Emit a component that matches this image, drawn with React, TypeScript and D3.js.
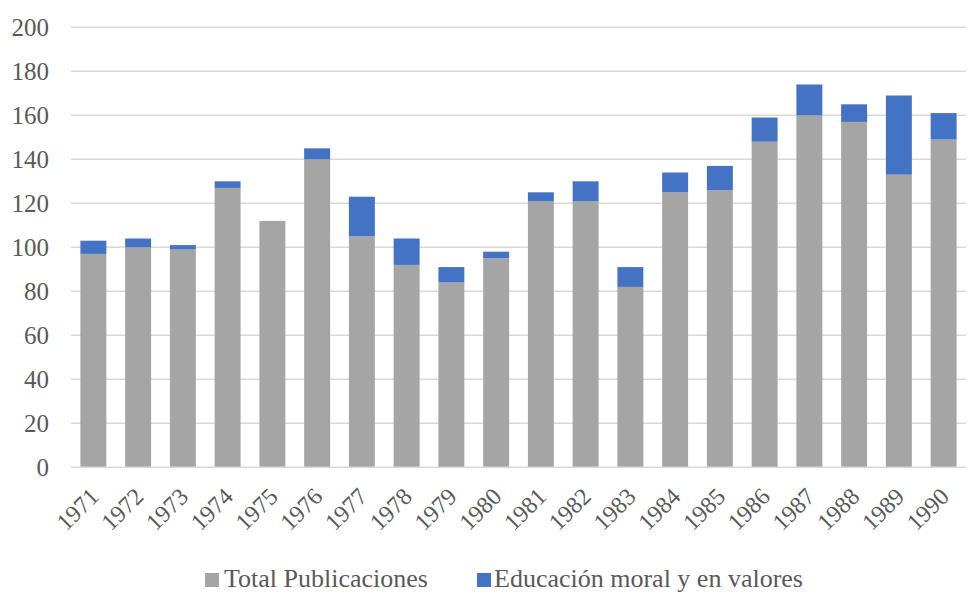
import React from "react";
import * as d3 from "d3";

const years = ["1971","1972","1973","1974","1975","1976","1977","1978","1979","1980","1981","1982","1983","1984","1985","1986","1987","1988","1989","1990"];
const totalPublicaciones = [97,100,99,127,112,140,105,92,84,95,121,121,82,125,126,148,160,157,133,149];
const educacionMoral = [6,4,2,3,0,5,18,12,7,3,4,9,9,9,11,11,14,8,36,12];
const yTicks = [0,20,40,60,80,100,120,140,160,180,200];
const seriesNames = ["Total Publicaciones", "Educación moral y en valores"];
const seriesColors = ["#a5a5a5", "#4472c4"];

export default function App() {
  const W = 971, H = 593;
  const left = 71, right = 966, top = 27.3, bottom = 467.3;
  const x = d3.scaleBand<string>().domain(years).range([left, right]).paddingInner(0.42).paddingOuter(0.21);
  const y = d3.scaleLinear().domain([0, 200]).range([bottom, top]);
  const fontStyle = { fontFamily: "'Liberation Serif', 'Times New Roman', serif" };
  const textColor = "#595959";
  const fs = 26;
  return (
    <svg width={W} height={H} style={{ position: "absolute", left: 0, top: 0, background: "#fff" }}>
      {yTicks.map((t) => (
        <g key={t}>
          {t > 0 && <line x1={left} x2={right} y1={y(t)} y2={y(t)} stroke="#d9d9d9" strokeWidth={1.5} />}
          <text x={49} y={y(t)} dy="0.35em" textAnchor="end" style={fontStyle} fontSize={25} fill={textColor}>{t}</text>
        </g>
      ))}
      {years.map((yr, i) => {
        const g = totalPublicaciones[i];
        const b = educacionMoral[i];
        const bx = x(yr)!;
        const bw = x.bandwidth();
        return (
          <g key={yr}>
            <rect x={bx} y={y(g)} width={bw} height={y(0) - y(g)} fill={seriesColors[0]} />
            {b > 0 && <rect x={bx} y={y(g + b)} width={bw} height={y(g) - y(g + b)} fill={seriesColors[1]} />}
          </g>
        );
      })}
      <line x1={left} x2={right} y1={bottom} y2={bottom} stroke="#d9d9d9" strokeWidth={1.5} />
      {years.map((yr) => {
        const cx = x(yr)! + x.bandwidth() / 2 + 1;
        const ty = 492;
        return (
          <text key={yr} x={cx} y={ty} transform={`rotate(-45, ${cx}, ${ty})`} textAnchor="end" dy="0.35em"
            style={fontStyle} fontSize={24} fill={textColor}>{yr}</text>
        );
      })}
      <g>
        <rect x={205} y={573} width={14} height={14} fill={seriesColors[0]} />
        <text x={224} y={587} style={fontStyle} fontSize={fs} fill={textColor}>{seriesNames[0]}</text>
        <rect x={477} y={573} width={14} height={14} fill={seriesColors[1]} />
        <text x={494} y={587} style={fontStyle} fontSize={fs} fill={textColor}>{seriesNames[1]}</text>
      </g>
    </svg>
  );
}
